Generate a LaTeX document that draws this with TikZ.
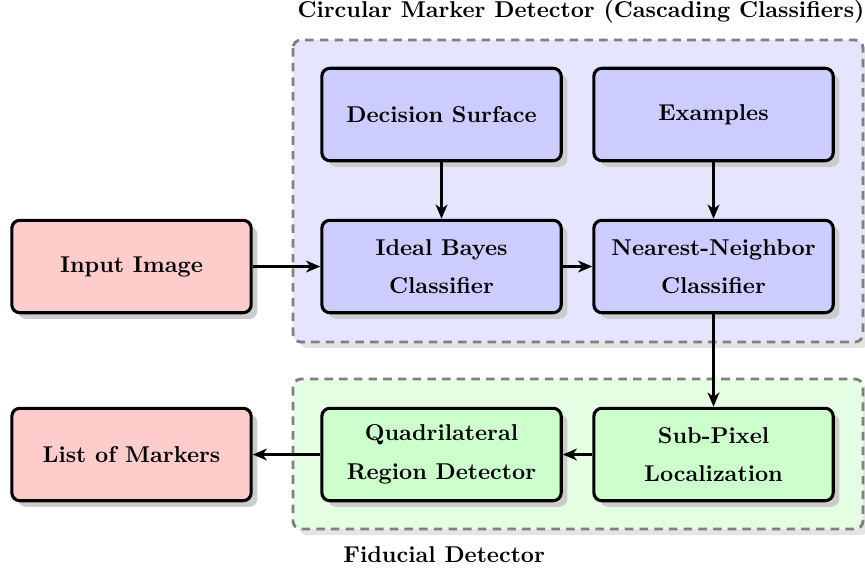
\documentclass[tikz,border=0pt]{standalone}
\usepackage{tikz}
\usetikzlibrary{arrows.meta,shadows,backgrounds}
\definecolor{pinkfill}{RGB}{255,204,204}
\definecolor{bluefill}{RGB}{204,204,255}
\definecolor{greenfill}{RGB}{204,255,204}
\definecolor{bluegroup}{RGB}{229,229,255}
\definecolor{greengroup}{RGB}{229,255,229}
\definecolor{shadowgray}{RGB}{204,204,204}
\definecolor{groupshadow}{RGB}{228,228,228}
\newcommand{\labelfont}{\fontsize{9.66pt}{11.6pt}\selectfont\bfseries}
\tikzset{
  stage/.style={draw=black, line width=1.3pt, rounded corners=3.4pt,
    minimum width=101pt, minimum height=39pt, align=center,
    font=\labelfont, inner sep=2pt,
    drop shadow={shadow xshift=2.6pt, shadow yshift=-2.6pt, fill=shadowgray, opacity=1}},
  iostage/.style={stage, fill=pinkfill},
  bluestage/.style={stage, fill=bluefill},
  greenstage/.style={stage, fill=greenfill},
  group/.style={draw=gray, line width=1.2pt, dash pattern=on 3.6pt off 2.6pt, rounded corners=3.4pt},
  flow/.style={line width=1.1pt, -{Stealth[length=6pt, width=5pt, inset=1.8pt]}},
  grouptitle/.style={font=\labelfont, inner sep=0pt}
}
\begin{document}
\begin{tikzpicture}[x=0.4219pt, y=-0.4219pt]
\useasboundingbox (0,0) rectangle (865,571);

% group panels with their shadows
\fill[groupshadow, rounded corners=3.4pt] (299,46) rectangle (869,348);
\fill[groupshadow, rounded corners=3.4pt] (299,385) rectangle (869,535);
\fill[white] (865,0) rectangle (880,571);
\path[group, fill=bluegroup] (293,40) rectangle (863,342);
\path[group, fill=greengroup] (293,379) rectangle (863,529);

\node[grouptitle, anchor=base] (cmdtitle) at (581,17) {Circular Marker Detector (Cascading Classifiers)};
\node[grouptitle, anchor=base west] (fidtitle) at (343,562) {Fiducial Detector};

% processing stages
\node[iostage] (input) at (131.5,266.5) {Input Image};
\node[bluestage] (surface) at (441.5,114.5) {Decision Surface};
\node[bluestage] (examples) at (713.5,114.5) {Examples};
\node[bluestage] (bayes) at (441.5,266.5) {Ideal Bayes\\[4.6pt]Classifier};
\node[bluestage] (nn) at (713.5,266.5) {Nearest-Neighbor\\[4.6pt]Classifier};
\node[iostage] (markers) at (131.5,454.5) {List of Markers};
\node[greenstage] (quad) at (441.5,454.5) {Quadrilateral\\[4.6pt]Region Detector};
\node[greenstage] (subpix) at (713.5,454.5) {Sub-Pixel\\[4.6pt]Localization};

% connectors
\draw[flow] (input) -- (bayes);
\draw[flow] (surface) -- (bayes);
\draw[flow] (examples) -- (nn);
\draw[flow] (bayes) -- (nn);
\draw[flow] (nn) -- (subpix);
\draw[flow] (subpix) -- (quad);
\draw[flow] (quad) -- (markers);
\end{tikzpicture}
\end{document}
